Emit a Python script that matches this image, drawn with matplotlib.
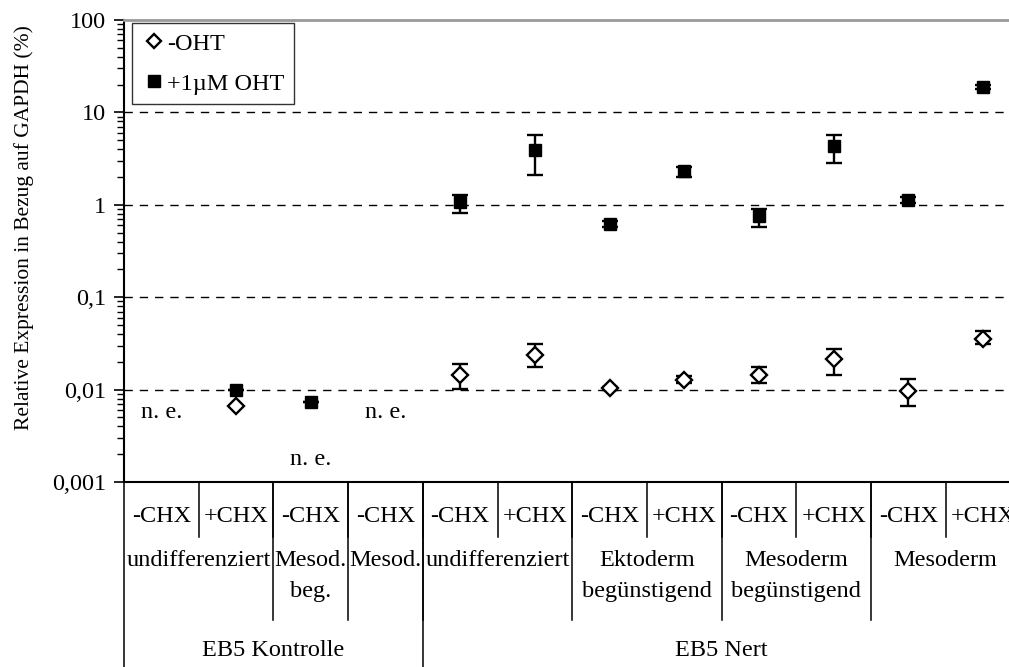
import numpy as np
import matplotlib
matplotlib.use("Agg")
import matplotlib.pyplot as plt
from matplotlib.lines import Line2D

# =========================================================
# DATA
# =========================================================

chx_labels = ["-CHX", "+CHX", "-CHX", "-CHX", "-CHX", "+CHX",
              "-CHX", "+CHX", "-CHX", "+CHX", "-CHX", "+CHX"]

# groups: (label, first slot, last slot)
groups = [("undifferenziert", 0, 1), ("Mesod.\nbeg.", 2, 2), ("Mesod.", 3, 3),
          ("undifferenziert", 4, 5), ("Ektoderm\nbegünstigend", 6, 7),
          ("Mesoderm\nbegünstigend", 8, 9), ("Mesoderm", 10, 11)]

lines = [("EB5 Kontrolle", 0, 3), ("EB5 Nert", 4, 11)]

# -OHT (nan = not detected)
minus_oht = [np.nan, 0.00665, np.nan, np.nan, 0.0144, 0.0237,
             0.0104, 0.0127, 0.0144, 0.0214, 0.0097, 0.0353]
minus_lo = [np.nan, 0.00665, np.nan, np.nan, 0.0101, 0.0176,
            0.0100, 0.0117, 0.0117, 0.0144, 0.0066, 0.0312]
minus_hi = [np.nan, 0.00665, np.nan, np.nan, 0.0189, 0.0312,
            0.0108, 0.0139, 0.0176, 0.0275, 0.0131, 0.0433]

# +1µM OHT
plus_oht = [np.nan, 0.0100, 0.0073, np.nan, 1.07, 3.92,
            0.62, 2.32, 0.757, 4.33, 1.13, 18.8]
plus_lo = [np.nan, 0.0100, 0.0073, np.nan, 0.82, 2.10,
           0.57, 2.00, 0.57, 2.80, 1.05, 18.0]
plus_hi = [np.nan, 0.0100, 0.0073, np.nan, 1.27, 5.70,
           0.66, 2.57, 0.90, 5.70, 1.21, 19.6]

# "n. e." (not expressed) annotations: slot, y value
ne_slots = [0, 3, 2]
ne_values = [0.0056, 0.0056, 0.00177]

# =========================================================
# FIGURE
# =========================================================

plt.rcParams["font.family"] = ["Liberation Serif", "DejaVu Serif"]

FS = 17.5

W, H = 1009, 667
fig = plt.figure(figsize=(W / 100, H / 100), dpi=100)

ax_left, ax_top, ax_bottom, ax_right = 124, 20, 482, 1009
ax = fig.add_axes([ax_left / W, (H - ax_bottom) / H,
                   (ax_right - ax_left) / W, (ax_bottom - ax_top) / H])

x = np.arange(len(chx_labels))


def err(v, lo, hi):
    v, lo, hi = map(np.asarray, (v, lo, hi))
    return np.vstack([v - lo, hi - v])


ax.errorbar(x, minus_oht, yerr=err(minus_oht, minus_lo, minus_hi), fmt="D",
            ms=8.5, mfc="white", mec="black", mew=1.7, ecolor="black",
            elinewidth=1.7, capsize=5.5, capthick=1.7, zorder=3)
ax.errorbar(x, plus_oht, yerr=err(plus_oht, plus_lo, plus_hi), fmt="s",
            ms=9, mfc="black", mec="black", ecolor="black",
            elinewidth=1.7, capsize=5.5, capthick=1.7, zorder=3)

for s, v in zip(ne_slots, ne_values):
    ax.text(s, v, "n. e.", ha="center", va="center", fontsize=FS)

ax.set_yscale("log")
ax.set_ylim(0.001, 100)
ax.set_xlim(-0.5, (ax_right - ax_left) / 74.7 - 0.5)
ax.set_yticks([0.001, 0.01, 0.1, 1, 10, 100])
ax.set_yticklabels(["0,001", "0,01", "0,1", "1", "10", "100"], fontsize=FS)
ax.yaxis.set_minor_locator(matplotlib.ticker.LogLocator(base=10, subs=np.arange(2, 10)))
ax.yaxis.set_minor_formatter(matplotlib.ticker.NullFormatter())
ax.tick_params(axis="y", which="major", direction="out", length=7, width=1.2, pad=6)
ax.tick_params(axis="y", which="minor", direction="out", length=5, width=1.0)
ax.set_xticks([])
ax.set_ylabel("Relative Expression in Bezug auf GAPDH (%)", fontsize=15.5)

ah = ax_bottom - ax_top


def ay(px):
    # pixel row -> axes fraction
    return (ax_bottom - px) / ah


ax.yaxis.set_label_coords((34 - ax_left) / (ax_right - ax_left), ay(228))

for v in [0.01, 0.1, 1, 10]:
    ax.axhline(v, color="black", lw=1, ls=(0, (6, 5)), zorder=1)

ax.spines["right"].set_visible(False)
ax.spines["top"].set_color("#999999")
ax.spines["top"].set_linewidth(2)
ax.spines["left"].set_linewidth(1.5)
ax.spines["bottom"].set_linewidth(1.5)

handles = [Line2D([], [], ls="none", marker="D", ms=7, mfc="white", mec="black", mew=1.7),
           Line2D([], [], ls="none", marker="s", ms=8, mfc="black", mec="black")]
leg = ax.legend(handles, ["-OHT", "+1µM OHT"], loc="upper left",
                bbox_to_anchor=(0.009, 0.994), fontsize=FS,
                frameon=True, fancybox=False, edgecolor="black", handletextpad=0.05,
                handlelength=1.0, labelspacing=0.75, borderpad=0.4, borderaxespad=0)
leg.get_frame().set_linewidth(1.0)

# =========================================================
# CATEGORY TABLE BELOW THE AXIS
# =========================================================

trans = ax.get_xaxis_transform()


def vline(xd, y0, y1, color="black"):
    ax.add_line(Line2D([xd, xd], [ay(y0), ay(y1)], transform=trans, color=color,
                       lw=1.1, clip_on=False))


for i, lab in enumerate(chx_labels):
    ax.text(i, ay(517), lab, transform=trans, ha="center", va="center",
            fontsize=FS, clip_on=False)
    if i > 0:
        vline(i - 0.5, ax_bottom, 537)

for lab, a, b in groups:
    for k, part in enumerate(lab.split("\n")):
        ax.text((a + b) / 2, ay(560 + 31 * k), part, transform=trans,
                ha="center", va="center", fontsize=FS, clip_on=False)
    if a > 0:
        vline(a - 0.5, ax_bottom, 620)

for lab, a, b in lines:
    ax.text((a + b) / 2, ay(651), lab, transform=trans, ha="center", va="center",
            fontsize=FS, clip_on=False)
    if a > 0:
        vline(a - 0.5, ax_bottom, H)

vline(-0.5, ax_bottom, H)

fig.savefig("out.png", dpi=100)
